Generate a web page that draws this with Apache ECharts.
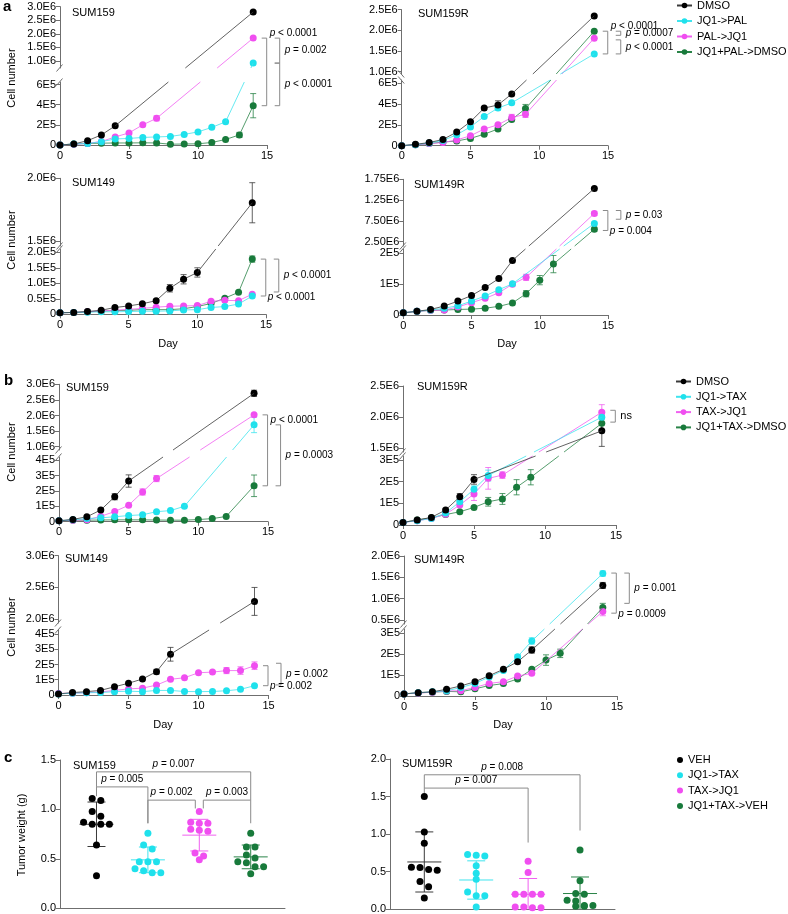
<!DOCTYPE html>
<html>
<head>
<meta charset="utf-8">
<title>Cell growth and tumor weight</title>
<script src="https://cdn.jsdelivr.net/npm/echarts@6.0.0/dist/echarts.min.js"></script>
<style>
html,body{margin:0;padding:0;background:#ffffff;}
#chart{width:788px;height:914px;}
</style>
</head>
<body>
<div id="chart"></div>
<script>
const _ = null;
const DAYS = [0,1,2,3,4,5,6,7,8,9,10,11,12,13,14];
const DAY_TICKS = [0,5,10,15];
const NAMES_A = ['DMSO','JQ1->PAL','PAL->JQ1','JQ1+PAL->DMSO'];
const NAMES_B = ['DMSO','JQ1->TAX','TAX->JQ1','JQ1+TAX->DMSO'];
const NAMES_C = ['VEH','JQ1->TAX','TAX->JQ1','JQ1+TAX->VEH'];

// ---- a: SUM159 ----
const aS159_DMSO   = [0, 1.0e4, 4.3e4, 1.0e5, 1.9e5, _, _, _, _, _, _, _, _, _, 2.8e6];
const aS159_JQ1PAL = [0, 1.0e4, 1.5e4, 3.3e4, 6.0e4, 6.5e4, 7.5e4, 8.0e4, 8.5e4, 1.05e5, 1.3e5, 1.75e5, 2.3e5, _, 0.92e6];
const aS159_PALJQ1 = [0, 0.8e4, 1.5e4, 3.5e4, 8.0e4, 1.2e5, 2.0e5, 2.65e5, _, _, _, _, _, _, 1.84e6];
const aS159_COMBO  = [0, 1.0e4, 1.5e4, 1.8e4, 2.0e4, 2.0e4, 2.2e4, 2.0e4, 0.8e4, 1.0e4, 1.2e4, 2.5e4, 5.5e4, 1.0e5, 3.9e5];
const aS159_DMSO_sd = [];
const aS159_JQ1PAL_sd = [];
const aS159_PALJQ1_sd = [[7, 2.5e4]];
const aS159_COMBO_sd = [[13, 2.5e4], [14, 1.2e5]];
const aS159_LOW_T = [0, 2e5, 4e5, 6e5];
const aS159_LOW_L = ['0', '2E5', '4E5', '6E5'];
const aS159_UP_T = [1.0e6, 1.5e6, 2.0e6, 2.5e6, 3.0e6];
const aS159_UP_L = ['1.0E6', '1.5E6', '2.0E6', '2.5E6', '3.0E6'];
const aS159_BR = [[1.84e6, 3.9e5, 0, 'p < 0.0001', 't'], [1.84e6, 0.92e6, 1, 'p = 0.002', 'm'], [0.92e6, 3.9e5, 1, 'p < 0.0001', 'm']];

// ---- a: SUM159R ----
const aS159R_DMSO   = [0, 1.3e4, 3.0e4, 6.0e4, 1.3e5, 2.3e5, 3.6e5, 3.9e5, 4.95e5, _, _, _, _, _, 2.35e6];
const aS159R_JQ1PAL = [0, 1.0e4, 2.5e4, 5.0e4, 1.05e5, 1.8e5, 2.8e5, 3.6e5, 4.1e5, _, _, _, _, _, 1.43e6];
const aS159R_PALJQ1 = [0, 0.8e4, 2.0e4, 3.0e4, 5.5e4, 9.5e4, 1.6e5, 2.0e5, 2.7e5, 3.0e5, _, _, _, _, 1.81e6];
const aS159R_COMBO  = [0, 0.8e4, 2.0e4, 3.5e4, 4.5e4, 7.0e4, 1.1e5, 1.6e5, 2.5e5, 3.55e5, _, _, _, _, 1.98e6];
const aS159R_DMSO_sd = [[7, 4e4]];
const aS159R_JQ1PAL_sd = [[7, 2e4]];
const aS159R_PALJQ1_sd = [[8, 3e4], [9, 3e4]];
const aS159R_COMBO_sd = [[9, 4e4]];
const aS159R_LOW_T = [0, 2e5, 4e5, 6e5];
const aS159R_LOW_L = ['0', '2E5', '4E5', '6E5'];
const aS159R_UP_T = [1.0e6, 1.5e6, 2.0e6, 2.5e6];
const aS159R_UP_L = ['1.0E6', '1.5E6', '2.0E6', '2.5E6'];
const aS159R_BR = [[1.98e6, 1.43e6, 0, 'p < 0.0001', 't'], [1.98e6, 1.88e6, 1, 'p = 0.0007', 'm'], [1.77e6, 1.43e6, 1, 'p < 0.0001', 'm']];

// ---- a: SUM149 ----
const aS149_DMSO   = [0.5e4, 0.6e4, 0.9e4, 1.3e4, 2.2e4, 2.7e4, 3.4e4, 4.4e4, 8.4e4, 1.13e5, 1.35e5, _, _, _, 1.805e6];
const aS149_JQ1PAL = [0.5e4, 0.6e4, 0.7e4, 0.8e4, 0.8e4, 0.9e4, 1.0e4, 1.0e4, 1.1e4, 1.4e4, 1.5e4, 2.2e4, 2.5e4, 3.3e4, 5.9e4];
const aS149_PALJQ1 = [0.5e4, 0.6e4, 0.8e4, 1.1e4, 1.3e4, 1.6e4, 1.9e4, 2.3e4, 2.6e4, 2.7e4, 2.8e4, 4.2e4, 4.5e4, 4.4e4, 6.5e4];
const aS149_COMBO  = [0.5e4, 0.6e4, 0.8e4, 1.0e4, 1.2e4, 1.3e4, 1.5e4, 1.5e4, 1.5e4, 1.8e4, 2.5e4, 3.5e4, 5.2e4, 7.1e4, 1.78e5];
const aS149_DMSO_sd = [[8, 1.2e4], [9, 1.5e4], [10, 1.5e4], [14, 1.6e5]];
const aS149_JQ1PAL_sd = [];
const aS149_PALJQ1_sd = [];
const aS149_COMBO_sd = [[14, 1.0e4]];
const aS149_LOW_T = [0, 0.5e5, 1.0e5, 1.5e5, 2.0e5];
const aS149_LOW_L = ['0', '0.5E5', '1.0E5', '1.5E5', '2.0E5'];
const aS149_UP_T = [1.5e6, 2.0e6];
const aS149_UP_L = ['1.5E6', '2.0E6'];
const aS149_BR = [[1.78e5, 5.9e4, 0, 'p < 0.0001', 'b'], [1.78e5, 7.2e4, 1, 'p < 0.0001', 'm']];

// ---- a: SUM149R ----
const aS149R_DMSO   = [0.7e4, 1.2e4, 1.8e4, 2.9e4, 4.5e4, 6.3e4, 8.9e4, 1.18e5, 1.77e5, _, _, _, _, _, 1.53e6];
const aS149R_JQ1PAL = [0.7e4, 1.2e4, 1.6e4, 2.2e4, 3.0e4, 4.5e4, 6.2e4, 8.2e4, 1.01e5, _, _, _, _, _, 0.69e6];
const aS149R_PALJQ1 = [0.7e4, 1.2e4, 1.5e4, 1.6e4, 2.6e4, 4.0e4, 5.4e4, 7.2e4, 1.0e5, 1.22e5, _, _, _, _, 0.93e6];
const aS149R_COMBO  = [0.7e4, 1.2e4, 1.5e4, 1.6e4, 1.8e4, 1.9e4, 2.2e4, 2.8e4, 3.9e4, 6.9e4, 1.13e5, 1.65e5, _, _, 0.55e6];
const aS149R_DMSO_sd = [];
const aS149R_JQ1PAL_sd = [[14, 0.03e6]];
const aS149R_PALJQ1_sd = [[9, 1.0e4], [14, 0.05e6]];
const aS149R_COMBO_sd = [[9, 1.0e4], [10, 1.5e4], [11, 2.8e4], [14, 0.05e6]];
const aS149R_LOW_T = [0, 1e5, 2e5];
const aS149R_LOW_L = ['0', '1E5', '2E5'];
const aS149R_UP_T = [0.25e6, 0.75e6, 1.25e6, 1.75e6];
const aS149R_UP_L = ['2.50E6', '7.50E6', '1.25E6', '1.75E6'];
const aS149R_BR = [[1.0e6, 0.52e6, 0, 'p = 0.004', 'b'], [1.0e6, 0.79e6, 1, 'p = 0.03', 'm']];

// ---- b: SUM159 ----
const bS159_DMSO   = [0.6e4, 1.5e4, 3.2e4, 7.6e4, 1.62e5, 2.64e5, _, _, _, _, _, _, _, _, 2.71e6];
const bS159_JQ1TAX = [0.6e4, 1.2e4, 2.0e4, 2.5e4, 3.2e4, 4.0e4, 4.5e4, 6.5e4, 7.2e4, 1.0e5, _, _, _, _, 1.70e6];
const bS159_TAXJQ1 = [0.6e4, 1.0e4, 1.2e4, 3.5e4, 6.6e4, 1.07e5, 1.93e5, 2.8e5, _, _, _, _, _, _, 2.02e6];
const bS159_COMBO  = [0.6e4, 1.0e4, 1.0e4, 1.1e4, 1.2e4, 1.2e4, 1.2e4, 1.1e4, 1.0e4, 1.0e4, 1.4e4, 2.0e4, 3.4e4, _, 2.33e5];
const bS159_DMSO_sd = [[4, 2e4], [5, 4e4], [14, 1e5]];
const bS159_JQ1TAX_sd = [[14, 2.5e5]];
const bS159_TAXJQ1_sd = [[6, 2e4], [7, 2e4]];
const bS159_COMBO_sd = [[14, 7e4]];
const bS159_LOW_T = [0, 1e5, 2e5, 3e5, 4e5];
const bS159_LOW_L = ['0', '1E5', '2E5', '3E5', '4E5'];
const bS159_UP_T = [1.0e6, 1.5e6, 2.0e6, 2.5e6, 3.0e6];
const bS159_UP_L = ['1.0E6', '1.5E6', '2.0E6', '2.5E6', '3.0E6'];
const bS159_BR = [[2.02e6, 2.33e5, 0, 'p < 0.0001', 0.07], [1.70e6, 2.33e5, 1, 'p = 0.0003', 'm']];

// ---- b: SUM159R ----
const bS159R_DMSO   = [1.2e4, 2.3e4, 3.5e4, 6.9e4, 1.3e5, 2.1e5, _, _, _, _, _, _, _, _, 1.78e6];
const bS159R_JQ1TAX = [1.2e4, 2.0e4, 3.0e4, 5.5e4, 1.07e5, 1.65e5, 2.28e5, _, _, _, _, _, _, _, 2.0e6];
const bS159R_TAXJQ1 = [1.2e4, 2.0e4, 3.0e4, 5.0e4, 9.2e4, 1.43e5, 2.15e5, 2.3e5, _, _, _, _, _, _, 2.08e6];
const bS159R_COMBO  = [1.2e4, 2.3e4, 3.3e4, 4.8e4, 6.1e4, 8.1e4, 1.07e5, 1.2e5, 1.74e5, 2.2e5, _, _, _, _, 1.9e6];
const bS159R_DMSO_sd = [[4, 1.5e4], [5, 2.2e4], [14, 2.5e5]];
const bS159R_JQ1TAX_sd = [[5, 1.5e4], [6, 2.5e4], [14, 1e5]];
const bS159R_TAXJQ1_sd = [[5, 3e4], [6, 5e4], [7, 1.5e4], [14, 1.2e5]];
const bS159R_COMBO_sd = [[6, 2e4], [7, 2.5e4], [8, 3.5e4], [9, 3.5e4], [14, 1e5]];
const bS159R_LOW_T = [0, 1e5, 2e5, 3e5];
const bS159R_LOW_L = ['0', '1E5', '2E5', '3E5'];
const bS159R_UP_T = [1.5e6, 2.0e6, 2.5e6];
const bS159R_UP_L = ['1.5E6', '2.0E6', '2.5E6'];
const bS159R_BR = [[2.11e6, 1.92e6, 0, 'ns', 'm']];

// ---- b: SUM149 ----
const bS149_DMSO   = [0.7e4, 1.6e4, 2.2e4, 3.0e4, 5.4e4, 7.7e4, 1.05e5, 1.53e5, 2.67e5, _, _, _, _, _, 2.28e6];
const bS149_JQ1TAX = [0.7e4, 1.2e4, 1.5e4, 1.6e4, 2.2e4, 2.5e4, 2.2e4, 3.0e4, 3.0e4, 2.3e4, 2.2e4, 2.3e4, 2.8e4, 3.7e4, 6.1e4];
const bS149_TAXJQ1 = [1.0e4, 1.2e4, 1.5e4, 2.0e4, 3.0e4, 4.0e4, 4.5e4, 6.5e4, 1.03e5, 1.13e5, 1.46e5, 1.5e5, 1.6e5, 1.6e5, 1.92e5];
const bS149_DMSO_sd = [[7, 1.5e4], [8, 4.5e4], [14, 2.2e5]];
const bS149_JQ1TAX_sd = [];
const bS149_TAXJQ1_sd = [[12, 2e4], [13, 2.5e4], [14, 2.5e4]];
const bS149_LOW_T = [0, 1e5, 2e5, 3e5, 4e5];
const bS149_LOW_L = ['0', '1E5', '2E5', '3E5', '4E5'];
const bS149_UP_T = [2.0e6, 2.5e6, 3.0e6];
const bS149_UP_L = ['2.0E6', '2.5E6', '3.0E6'];
const bS149_BR = [[1.92e5, 6.1e4, 0, 'p = 0.002', 'b'], [2.08e5, 6.6e4, 1, 'p = 0.002', 'm']];

// ---- b: SUM149R ----
const bS149R_DMSO   = [1.0e4, 1.6e4, 2.0e4, 3.2e4, 4.8e4, 6.8e4, 9.7e4, 1.27e5, 1.63e5, 2.19e5, _, _, _, _, 1.31e6];
const bS149R_JQ1TAX = [1.0e4, 1.5e4, 2.0e4, 2.5e4, 4.0e4, 6.0e4, 9.0e4, 1.22e5, 1.87e5, 2.62e5, _, _, _, _, 1.59e6];
const bS149R_TAXJQ1 = [1.0e4, 1.4e4, 1.8e4, 2.4e4, 2.5e4, 4.1e4, 6.0e4, 6.8e4, 9.5e4, 1.08e5, _, _, _, _, 0.70e6];
const bS149R_COMBO  = [1.0e4, 1.5e4, 1.8e4, 2.2e4, 2.0e4, 3.4e4, 5.0e4, 5.9e4, 8.1e4, 1.27e5, 1.71e5, 2.03e5, _, _, 0.79e6];
const bS149R_DMSO_sd = [[9, 1.5e4], [14, 0.7e5]];
const bS149R_JQ1TAX_sd = [[8, 1e4], [9, 1.5e4], [14, 0.6e5]];
const bS149R_TAXJQ1_sd = [[14, 1e5]];
const bS149R_COMBO_sd = [[10, 2.5e4], [11, 2e4], [14, 1e5]];
const bS149R_LOW_T = [0, 1e5, 2e5, 3e5];
const bS149R_LOW_L = ['0', '1E5', '2E5', '3E5'];
const bS149R_UP_T = [0.5e6, 1.0e6, 1.5e6, 2.0e6];
const bS149R_UP_L = ['0.5E6', '1.0E6', '1.5E6', '2.0E6'];
const bS149R_BR = [[1.6e6, 0.66e6, 0, 'p = 0.0009', 'b'], [1.6e6, 0.89e6, 1, 'p = 0.001', 'm']];

// ---- c: tumor weight (g) ----
const cS159_VEH    = [1.09, 1.11, 0.98, 0.93, 0.85, 0.85, 0.85, 0.87, 0.64, 0.33];
const cS159_JQ1TAX = [0.76, 0.64, 0.60, 0.47, 0.47, 0.47, 0.38, 0.36, 0.36, 0.40];
const cS159_TAXJQ1 = [0.98, 0.87, 0.86, 0.86, 0.78, 0.79, 0.80, 0.56, 0.53, 0.49];
const cS159_COMBO  = [0.76, 0.62, 0.62, 0.54, 0.47, 0.46, 0.51, 0.42, 0.42, 0.35];
const cS159_MEAN = [0.85, 0.49, 0.74, 0.52];
const cS159_SD   = [0.225, 0.13, 0.16, 0.12];
const cS159_Y_T = [0, 0.5, 1.0, 1.5];
const cS159_Y_L = ['0.0', '0.5', '1.0', '1.5'];
const cS159_BR = [[1, 2, 1.228, 1.134, 0.86, 'p = 0.005'], [2, 3, 1.094, 0.86, 1.01, 'p = 0.002'], [3, 4, 1.094, 1.01, 0.86, 'p = 0.003'], [1, 4, 1.38, 1.228, 1.094, 'p = 0.007']];

const cS159R_VEH    = [1.50, 1.03, 0.88, 0.56, 0.555, 0.53, 0.52, 0.37, 0.30, 0.15];
const cS159R_JQ1TAX = [0.73, 0.72, 0.71, 0.58, 0.48, 0.40, 0.23, 0.18, 0.18, 0.03];
const cS159R_TAXJQ1 = [0.64, 0.49, 0.20, 0.20, 0.20, 0.20, 0.03, 0.02, 0.02, 0.03];
const cS159R_COMBO  = [0.79, 0.38, 0.21, 0.12, 0.05, 0.04, 0.04, 0.05, 0.11, 0.20];
const cS159R_MEAN = [0.63, 0.39, 0.20, 0.21];
const cS159R_SD   = [0.40, 0.255, 0.21, 0.22];
const cS159R_Y_T = [0, 0.5, 1.0, 1.5, 2.0];
const cS159R_Y_L = ['0.0', '0.5', '1.0', '1.5', '2.0'];
const cS159R_BR = [[1, 4, 1.79, 1.613, 1.048, 'p = 0.008'], [1, 3, 1.613, 1.547, 0.888, 'p = 0.007']];

// ---------------- styling / layout ----------------
const FF = '"Liberation Sans", Arial, Helvetica, sans-serif';
const AX = '#6f6f6f';
const BRC = '#8a8a8a';
const COLORS = ['#000000', '#1fe1ec', '#f04ef0', '#187a3b'];
const LINE_COLORS = ['#3a3a3a', '#3fe4ee', '#f060f0', '#2a8448'];

const PANELS = [
  {title:'SUM159', names:NAMES_A, groups:[aS159_DMSO, aS159_JQ1PAL, aS159_PALJQ1, aS159_COMBO], sds:[aS159_DMSO_sd, aS159_JQ1PAL_sd, aS159_PALJQ1_sd, aS159_COMBO_sd],
   lowT:aS159_LOW_T, lowL:aS159_LOW_L, upT:aS159_UP_T, upL:aS159_UP_L, br:aS159_BR,
   x0:60, x15:267, low:[82, 145, 6.25e5], up:[6.6, 68, 0.74e6, 3.0e6], tp:[72, 13], slash:1},
  {title:'SUM159R', names:NAMES_A, groups:[aS159R_DMSO, aS159R_JQ1PAL, aS159R_PALJQ1, aS159R_COMBO], sds:[aS159R_DMSO_sd, aS159R_JQ1PAL_sd, aS159R_PALJQ1_sd, aS159R_COMBO_sd],
   lowT:aS159R_LOW_T, lowL:aS159R_LOW_L, upT:aS159R_UP_T, upL:aS159R_UP_L, br:aS159R_BR,
   x0:401.7, x15:608, low:[80, 145.7, 6.29e5], up:[9.7, 74, 0.944e6, 2.5e6], tp:[418, 14], slash:-1},
  {title:'SUM149', names:NAMES_A, groups:[aS149_DMSO, aS149_JQ1PAL, aS149_PALJQ1, aS149_COMBO], sds:[aS149_DMSO_sd, aS149_JQ1PAL_sd, aS149_PALJQ1_sd, aS149_COMBO_sd],
   lowT:aS149_LOW_T, lowL:aS149_LOW_L, upT:aS149_UP_T, upL:aS149_UP_L, br:aS149_BR,
   x0:60, x15:266, low:[249, 314.3, 2.106e5], up:[178.3, 246, 1.46e6, 2.0e6], tp:[72, 183], slash:1},
  {title:'SUM149R', names:NAMES_A, groups:[aS149R_DMSO, aS149R_JQ1PAL, aS149R_PALJQ1, aS149R_COMBO], sds:[aS149R_DMSO_sd, aS149R_JQ1PAL_sd, aS149R_PALJQ1_sd, aS149R_COMBO_sd],
   lowT:aS149R_LOW_T, lowL:aS149R_LOW_L, upT:aS149R_UP_T, upL:aS149R_UP_L, br:aS149R_BR,
   x0:403.3, x15:608, low:[249, 315, 2.14e5], up:[179.3, 246, 0.147e6, 1.75e6], tp:[414, 185], slash:1},
  {title:'SUM159', names:NAMES_B, groups:[bS159_DMSO, bS159_JQ1TAX, bS159_TAXJQ1, bS159_COMBO], sds:[bS159_DMSO_sd, bS159_JQ1TAX_sd, bS159_TAXJQ1_sd, bS159_COMBO_sd],
   lowT:bS159_LOW_T, lowL:bS159_LOW_L, upT:bS159_UP_T, upL:bS159_UP_L, br:bS159_BR,
   x0:59, x15:268, low:[457, 521.7, 4.2e5], up:[384.3, 450, 0.894e6, 3.0e6], tp:[66, 388], slash:1},
  {title:'SUM159R', names:NAMES_B, groups:[bS159R_DMSO, bS159R_JQ1TAX, bS159R_TAXJQ1, bS159R_COMBO], sds:[bS159R_DMSO_sd, bS159R_JQ1TAX_sd, bS159R_TAXJQ1_sd, bS159R_COMBO_sd],
   lowT:bS159R_LOW_T, lowL:bS159R_LOW_L, upT:bS159R_UP_T, upL:bS159R_UP_L, br:bS159R_BR,
   x0:403, x15:616, low:[456, 525, 3.18e5], up:[386, 452, 1.44e6, 2.5e6], tp:[417, 387], slash:1},
  {title:'SUM149', names:NAMES_B, groups:[bS149_DMSO, bS149_JQ1TAX, bS149_TAXJQ1], sds:[bS149_DMSO_sd, bS149_JQ1TAX_sd, bS149_TAXJQ1_sd],
   lowT:bS149_LOW_T, lowL:bS149_LOW_L, upT:bS149_UP_T, upL:bS149_UP_L, br:bS149_BR,
   x0:58.5, x15:268.5, low:[630, 695, 4.26e5], up:[555.7, 623, 1.94e6, 3.0e6], tp:[65, 559], slash:1},
  {title:'SUM149R', names:NAMES_B, groups:[bS149R_DMSO, bS149R_JQ1TAX, bS149R_TAXJQ1, bS149R_COMBO], sds:[bS149R_DMSO_sd, bS149R_JQ1TAX_sd, bS149R_TAXJQ1_sd, bS149R_COMBO_sd],
   lowT:bS149R_LOW_T, lowL:bS149R_LOW_L, upT:bS149R_UP_T, upL:bS149R_UP_L, br:bS149R_BR,
   x0:404, x15:617, low:[629, 696, 3.19e5], up:[556, 624, 0.406e6, 2.0e6], tp:[414, 560], slash:1}
];

const DOTS = [
  {title:'SUM159', groups:[cS159_VEH, cS159_JQ1TAX, cS159_TAXJQ1, cS159_COMBO], mean:cS159_MEAN, sd:cS159_SD,
   yT:cS159_Y_T, yL:cS159_Y_L, br:cS159_BR, left:60, top:760, width:225, bottom:908.3, xmin:0.29, xmax:4.667, ymax:1.5, tp:[73, 766]},
  {title:'SUM159R', groups:[cS159R_VEH, cS159R_JQ1TAX, cS159R_TAXJQ1, cS159R_COMBO], mean:cS159R_MEAN, sd:cS159R_SD,
   yT:cS159R_Y_T, yL:cS159R_Y_L, br:cS159R_BR, left:390, top:759, width:225, bottom:909.3, xmin:0.339, xmax:4.674, ymax:2.0, tp:[402, 764]}
];

const TEXTS = [
  ['a', 3, 7, 15, true, 0], ['b', 4, 381, 15, true, 0], ['c', 4, 758, 15, true, 0],
  ['Cell number', 12, 78, 11, false, 90], ['Cell number', 12, 240, 11, false, 90],
  ['Cell number', 12, 452, 11, false, 90], ['Cell number', 12, 627, 11, false, 90],
  ['Tumor weight (g)', 22, 835, 11, false, 90],
  ['Day', 168, 344, 11, false, 0, 'center'], ['Day', 507, 344, 11, false, 0, 'center'],
  ['Day', 163, 725, 11, false, 0, 'center'], ['Day', 503, 725, 11, false, 0, 'center']
];

// ---------------- helpers ----------------
function fmtFrom(ticks, labels) {
  return function (v) {
    const i = ticks.findIndex(t => Math.abs(t - v) <= 1e-6 * Math.max(1, Math.abs(t)));
    return i < 0 ? '' : labels[i];
  };
}
function yAxisDef(gridIndex, min, max, ticks, labels) {
  return {gridIndex, type:'value', min, max,
    axisLine:{show:true, onZero:false, lineStyle:{color:AX, width:1}},
    axisTick:{show:true, inside:false, length:4, customValues:ticks, lineStyle:{color:AX, width:1}},
    axisLabel:{show:true, customValues:ticks, formatter:fmtFrom(ticks, labels), margin:4, fontSize:11, color:'#000', fontFamily:FF},
    splitLine:{show:false}};
}
function errSeries(xi, color, data, ymin) {
  return {type:'custom', xAxisIndex:xi, yAxisIndex:xi, data, z:2, silent:true, clip:false,
    renderItem: function (params, api) {
      const x = api.value(0), y = api.value(1), e = api.value(2);
      const a = api.coord([x, y + e]);
      const b = api.coord([x, Math.max(y - e, ymin)]);
      const w = 3, st = {stroke:color, lineWidth:0.8};
      return {type:'group', children:[
        {type:'line', shape:{x1:a[0], y1:a[1], x2:b[0], y2:b[1]}, style:st},
        {type:'line', shape:{x1:a[0] - w, y1:a[1], x2:a[0] + w, y2:a[1]}, style:st},
        {type:'line', shape:{x1:b[0] - w, y1:b[1], x2:b[0] + w, y2:b[1]}, style:st}
      ]};
    }};
}
function txt(s, x, y, size, opts) {
  opts = opts || {};
  const align = opts.align || 'left';
  const st = {text:s, fill:'#000', font:(opts.bold ? 'bold ' : '') + (opts.italic ? 'italic ' : '') + size + 'px ' + FF,
    align, verticalAlign:'middle', textAlign:align, textVerticalAlign:'middle'};
  if (opts.rich) st.rich = opts.rich;
  return {type:'text', x, y, rotation:(opts.rot || 0) * Math.PI / 180, silent:true, z:100, style:st};
}
function pText(s, x, y, align) {
  if (s.charAt(0) !== 'p') return txt(s, x, y, 11, {align});
  return txt('{i|p}' + s.slice(1), x, y, 10, {align, rich:{i:{fontStyle:'italic', fontSize:10, fontFamily:FF, fill:'#000'}}});
}

// ---------------- build base option ----------------
const chart = echarts.init(document.getElementById('chart'), null, {width:788, height:914, renderer:'canvas'});

function baseOption() {
  const opt = {animation:false, backgroundColor:'#ffffff', grid:[], xAxis:[], yAxis:[], series:[], graphic:[],
    legend:[
      {data:NAMES_A, orient:'vertical', left:676, top:0, padding:0, itemWidth:15, itemHeight:7, itemGap:4.5, selectedMode:false,
       textStyle:{fontSize:11, color:'#000', fontFamily:FF, lineHeight:11}},
      {data:NAMES_B, orient:'vertical', left:675, top:376, padding:0, itemWidth:15, itemHeight:7, itemGap:4.3, selectedMode:false,
       textStyle:{fontSize:11, color:'#000', fontFamily:FF, lineHeight:11}},
      {data:NAMES_C, orient:'vertical', left:677, top:754.5, padding:0, itemWidth:6, itemHeight:6, itemGap:4.3, icon:'circle', selectedMode:false,
       textStyle:{fontSize:11, color:'#000', fontFamily:FF, lineHeight:11}}
    ]};
  PANELS.forEach(P => {
    const gL = opt.grid.length, gU = gL + 1;
    P.gL = gL; P.gU = gU; P.cross = [];
    opt.grid.push({left:P.x0, top:P.low[0], width:P.x15 - P.x0, height:P.low[1] - P.low[0], outerBoundsMode:'none', containLabel:false});
    opt.grid.push({left:P.x0, top:P.up[0], width:P.x15 - P.x0, height:P.up[1] - P.up[0], outerBoundsMode:'none', containLabel:false});
    opt.xAxis.push({gridIndex:gL, type:'value', min:0, max:15,
      axisLine:{show:true, onZero:false, lineStyle:{color:AX, width:1}},
      axisTick:{show:true, length:4, customValues:DAY_TICKS, lineStyle:{color:AX}},
      axisLabel:{show:true, customValues:DAY_TICKS, margin:5, fontSize:11, color:'#000', fontFamily:FF},
      splitLine:{show:false}});
    opt.xAxis.push({gridIndex:gU, type:'value', min:0, max:15, show:false, splitLine:{show:false}});
    opt.yAxis.push(yAxisDef(gL, 0, P.low[2], P.lowT, P.lowL));
    opt.yAxis.push(yAxisDef(gU, P.up[2], P.up[3], P.upT, P.upL));
    // draw later groups first so black ends up on top
    for (let g = P.groups.length - 1; g >= 0; g--) {
      const arr = P.groups[g];
      const lowData = [], upData = [];
      let prev = null;
      DAYS.forEach(d => {
        const v = arr[d];
        if (v === null || v === undefined) return;
        const inLow = v <= P.low[2];
        (inLow ? lowData : upData).push([d, v]);
        if (prev && prev.inLow !== inLow) P.cross.push({g, a:prev, b:{d, v, inLow}});
        prev = {d, v, inLow};
      });
      const common = {type:'line', name:P.names[g], symbol:'circle', symbolSize:7, showSymbol:true, clip:false, z:3,
        itemStyle:{color:COLORS[g], borderWidth:0}, lineStyle:{color:LINE_COLORS[g], width:0.8}, emphasis:{disabled:true}};
      opt.series.push(Object.assign({}, common, {xAxisIndex:gL, yAxisIndex:gL, data:lowData}));
      opt.series.push(Object.assign({}, common, {xAxisIndex:gU, yAxisIndex:gU, data:upData}));
      const eLow = [], eUp = [];
      P.sds[g].forEach(([d, s]) => {
        const v = arr[d];
        if (v <= P.low[2]) eLow.push([d, v, s]); else eUp.push([d, v, s]);
      });
      if (eLow.length) opt.series.push(errSeries(gL, LINE_COLORS[g], eLow, 0));
      if (eUp.length) opt.series.push(errSeries(gU, LINE_COLORS[g], eUp, P.up[2]));
    }
  });
  DOTS.forEach(D => {
    const gi = opt.grid.length;
    D.gi = gi;
    opt.grid.push({left:D.left, top:D.top, width:D.width, height:D.bottom - D.top, outerBoundsMode:'none', containLabel:false});
    opt.xAxis.push({gridIndex:gi, type:'value', min:D.xmin, max:D.xmax,
      axisLine:{show:true, onZero:false, lineStyle:{color:AX, width:1}},
      axisTick:{show:false}, axisLabel:{show:false}, splitLine:{show:false}});
    opt.yAxis.push(yAxisDef(gi, 0, D.ymax, D.yT, D.yL));
    opt.series.push({type:'custom', xAxisIndex:gi, yAxisIndex:gi, silent:true, clip:false, z:2,
      data:D.mean.map((m, k) => [k + 1, m, D.sd[k]]),
      renderItem: function (params, api) {
        const k = params.dataIndex;
        const c = LINE_COLORS[k];
        const x = api.value(0), m = api.value(1), s = api.value(2);
        const pm = api.coord([x, m]), pt = api.coord([x, m + s]);
        const lowV = m - s;
        const pb = api.coord([x, Math.max(lowV, 0)]);
        const st = {stroke:c, lineWidth:1};
        const ch = [
          {type:'line', shape:{x1:pm[0] - 17, y1:pm[1], x2:pm[0] + 17, y2:pm[1]}, style:st},
          {type:'line', shape:{x1:pt[0], y1:pt[1], x2:pb[0], y2:pb[1]}, style:st},
          {type:'line', shape:{x1:pt[0] - 9, y1:pt[1], x2:pt[0] + 9, y2:pt[1]}, style:st}
        ];
        if (lowV > 0) ch.push({type:'line', shape:{x1:pb[0] - 9, y1:pb[1], x2:pb[0] + 9, y2:pb[1]}, style:st});
        return {type:'group', children:ch};
      }});
  });
  return opt;
}

let option = baseOption();
chart.setOption(option);

// ---------------- second pass: things placed through the library's scales ----------------
const toPx = (gi, x, y) => chart.convertToPixel({gridIndex:gi}, [x, y]);
const graphics = [];
const line = (x1, y1, x2, y2, color, w) => ({type:'line', silent:true, z:40, shape:{x1, y1, x2, y2}, style:{stroke:color, lineWidth:w}});
const poly = (pts, color) => ({type:'polyline', silent:true, z:40, shape:{points:pts}, style:{stroke:color, lineWidth:1, fill:null}});

PANELS.forEach(P => {
  const yLowTop = toPx(P.gL, 0, P.low[2])[1];
  const yUpBot = toPx(P.gU, 0, P.up[2])[1];
  const xAxisPx = toPx(P.gL, 0, 0)[0];
  // lines that jump across the axis break, kept straight on screen and cut at the gap
  P.cross.forEach(c => {
    const A = c.a.inLow ? toPx(P.gL, c.a.d, c.a.v) : toPx(P.gU, c.a.d, c.a.v);
    const B = c.b.inLow ? toPx(P.gL, c.b.d, c.b.v) : toPx(P.gU, c.b.d, c.b.v);
    const at = y => A[0] + (B[0] - A[0]) * (y - A[1]) / (B[1] - A[1]);
    graphics.push(line(A[0], A[1], at(yLowTop), yLowTop, LINE_COLORS[c.g], 0.8));
    graphics.push(line(at(yUpBot), yUpBot, B[0], B[1], LINE_COLORS[c.g], 0.8));
  });
  // break marks on the y axis
  [yUpBot, yLowTop].forEach(y => {
    graphics.push(line(xAxisPx - 3.5, y + 3.5 * P.slash, xAxisPx + 2.5, y - 3.5 * P.slash, AX, 1));
  });
  // significance brackets
  const x14 = toPx(P.gL, 14, 0)[0];
  const yOf = v => v > P.low[2] ? toPx(P.gU, 0, v)[1] : toPx(P.gL, 0, v)[1];
  P.br.forEach(([v1, v2, lvl, label, pos]) => {
    const bx = x14 + (lvl ? 26.5 : 13.5);
    const y1 = yOf(v1), y2 = yOf(v2);
    graphics.push(poly([[bx - 5, y1], [bx, y1], [bx, y2], [bx - 5, y2]], BRC));
    let tx = bx + 3, ty;
    if (pos === 't') ty = y1 - 5;
    else if (pos === 'b') { ty = y2 + 1; tx = bx + 2; }
    else if (pos === 'm') { ty = (y1 + y2) / 2; tx = bx + 5; }
    else ty = y1 + pos * (y2 - y1);
    graphics.push(pText(label, tx, ty, 'left'));
  });
  graphics.push(txt(P.title, P.tp[0], P.tp[1], 11));
});

const dotSeries = [];
DOTS.forEach(D => {
  const p1 = toPx(D.gi, 1, 0), p2 = toPx(D.gi, 2, 1);
  const pxX = p2[0] - p1[0];
  const pxY = p1[1] - p2[1];
  D.groups.forEach((vals, k) => {
    // row-wise scatter layout: near-equal values sit side by side, centred on the column
    const order = vals.map((v, i) => i).sort((a, b) => vals[b] - vals[a]);
    const off = new Array(vals.length).fill(0);
    let i = 0;
    while (i < order.length) {
      const row = [order[i]];
      const start = vals[order[i]];
      i++;
      while (i < order.length && (start - vals[order[i]]) * pxY < 5.5) { row.push(order[i]); i++; }
      row.forEach((j, r) => { off[j] = (r - (row.length - 1) / 2) * 8.6 / pxX; });
    }
    dotSeries.push({type:'scatter', name:NAMES_C[k], xAxisIndex:D.gi, yAxisIndex:D.gi, symbol:'circle', symbolSize:7, z:3,
      itemStyle:{color:COLORS[k], opacity:1}, emphasis:{disabled:true},
      data:vals.map((v, j) => [k + 1 + off[j], v])});
  });
  // brackets
  const shared = (b, side) => D.br.some(o => o !== b && Math.abs(o[2] - b[2]) < 1e-6 && (side === 0 ? o[1] === b[0] : o[0] === b[1]));
  D.br.forEach(b => {
    const [c1, c2, top, l1, l2, label] = b;
    const xa = toPx(D.gi, c1, 0)[0] + (shared(b, 0) ? 4 : 0);
    const xb = toPx(D.gi, c2, 0)[0] - (shared(b, 1) ? 4 : 0);
    const yt = toPx(D.gi, 0, top)[1];
    graphics.push(poly([[xa, toPx(D.gi, 0, l1)[1]], [xa, yt], [xb, yt], [xb, toPx(D.gi, 0, l2)[1]]], BRC));
    graphics.push(pText(label, (xa + xb) / 2, yt - 8, 'center'));
  });
  graphics.push(txt(D.title, D.tp[0], D.tp[1], 11));
});

TEXTS.forEach(([s, x, y, size, bold, rot, align]) => {
  graphics.push(txt(s, x, y, size, {bold, rot, align:align || (rot ? 'center' : 'left')}));
});

option = baseOption();
option.series = option.series.concat(dotSeries);
option.graphic = graphics;
chart.setOption(option, true);
</script>
</body>
</html>
